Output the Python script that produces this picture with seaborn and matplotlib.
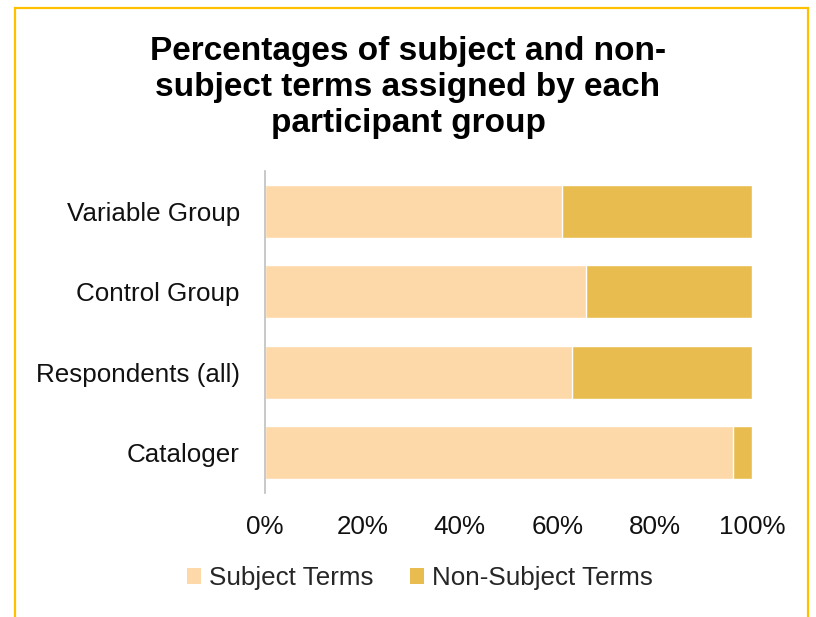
import matplotlib
matplotlib.use("Agg")
import matplotlib.pyplot as plt
import matplotlib.patches as mpatches
import matplotlib.ticker as mticker
import pandas as pd
import seaborn as sns

# Share of assigned terms per participant group (percent)
groups = ["Variable Group", "Control Group", "Respondents (all)", "Cataloger"]
subject_terms = [61, 66, 63, 96]
non_subject_terms = [39, 34, 37, 4]
x_ticks = [0, 20, 40, 60, 80, 100]

subject_color = "#FDD9AA"
non_subject_color = "#E9BC4F"
frame_color = "#FFC000"

sns.set_theme(style="white")
plt.rcParams["font.family"] = ["Liberation Sans", "DejaVu Sans"]

df = pd.DataFrame({
    "group": groups,
    "subject": subject_terms,
    "non_subject": non_subject_terms,
})
df["total"] = df["subject"] + df["non_subject"]

fig = plt.figure(figsize=(8.16, 6.17), dpi=100)
ax = fig.add_axes([265 / 816, 1 - 493 / 617, 487 / 816, 322 / 617])

# Stacked bars: full total in gold, subject share drawn over it
sns.barplot(data=df, y="group", x="total", color=non_subject_color,
            orient="h", width=0.66, saturation=1, ax=ax)
sns.barplot(data=df, y="group", x="subject", color=subject_color,
            orient="h", width=0.66, saturation=1, ax=ax)

ax.set_xlim(0, 100)
ax.set_xticks(x_ticks)
ax.xaxis.set_major_formatter(mticker.FuncFormatter(lambda v, p: f"{int(v)}%"))
ax.set_xlabel("")
ax.set_ylabel("")
ax.tick_params(axis="x", length=0, pad=16, labelsize=18.7, labelcolor="#111111")
ax.tick_params(axis="y", length=0, pad=18, labelsize=18.7, labelcolor="#111111")
for side in ["top", "right", "bottom"]:
    ax.spines[side].set_visible(False)
ax.spines["left"].set_color("#BFBFBF")
ax.spines["left"].set_linewidth(1.2)
ax.grid(False)

fig.text(0.5, 1 - 36 / 617,
         "Percentages of subject and non-\nsubject terms assigned by each\nparticipant group",
         ha="center", va="top", fontsize=24, fontweight="bold",
         linespacing=1.2, color="#000000")

handles = [
    mpatches.Patch(facecolor=subject_color, edgecolor="none", label="Subject Terms"),
    mpatches.Patch(facecolor=non_subject_color, edgecolor="none", label="Non-Subject Terms"),
]
fig.legend(handles=handles, loc="center", bbox_to_anchor=(420 / 816, 1 - 578 / 617),
           ncol=2, frameon=False, fontsize=18.7, handlelength=0.55,
           handleheight=0.55, handletextpad=0.3, columnspacing=1.4)

# Chart frame
frame = mpatches.Rectangle((15 / 816, -0.05), (808 - 15) / 816, 1 - 8 / 617 + 0.05,
                           transform=fig.transFigure, fill=False,
                           edgecolor=frame_color, linewidth=1.6, zorder=0)
fig.patches.append(frame)

fig.savefig("out.png", dpi=100, facecolor="white")
